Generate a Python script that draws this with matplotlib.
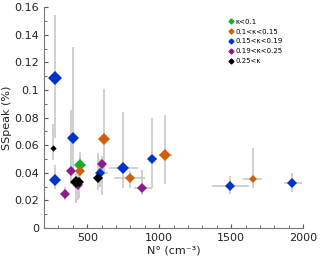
import numpy as np
import matplotlib
matplotlib.use('Agg')
import matplotlib.pyplot as plt
from matplotlib.lines import Line2D
from matplotlib.ticker import MultipleLocator

# kappa groups
labels = ['κ<0.1', '0.1<κ<0.15', '0.15<κ<0.19', '0.19<κ<0.25', '0.25<κ']
colors = ['#13b02a', '#d0600f', '#0033cc', '#8e1a8e', '#000000']

# N (cm-3), SSpeak (%), error bar ends
green_x = [449]
green_y = [0.046]
green_xlo = [430]
green_xhi = [470]
green_ylo = [0.038]
green_yhi = [0.055]

orange_x = [449, 615, 797, 1040, 1652]
orange_y = [0.041, 0.0645, 0.0364, 0.0527, 0.0355]
orange_xlo = [449, 615, 688, 999, 1585]
orange_xhi = [449, 615, 902, 1086, 1716]
orange_ylo = [0.030, 0.040, 0.029, 0.032, 0.0287]
orange_yhi = [0.052, 0.1006, 0.041, 0.082, 0.0577]

blue_x = [275, 275, 401, 592, 750, 952, 1495, 1925]
blue_y = [0.109, 0.035, 0.065, 0.040, 0.0437, 0.0497, 0.0306, 0.0324]
blue_xlo = [275, 275, 401, 562, 650, 925, 1367, 1866]
blue_xhi = [275, 275, 401, 643, 850, 988, 1624, 1992]
blue_ylo = [0.065, 0.028, 0.042, 0.030, 0.029, 0.029, 0.025, 0.026]
blue_yhi = [0.154, 0.046, 0.131, 0.050, 0.084, 0.080, 0.038, 0.040]

purple_x = [348, 390, 438, 601, 884]
purple_y = [0.025, 0.041, 0.031, 0.0463, 0.029]
purple_xlo = [348, 390, 438, 601, 826]
purple_xhi = [348, 390, 438, 601, 953]
purple_ylo = [0.020, 0.032, 0.020, 0.024, 0.024]
purple_yhi = [0.030, 0.0855, 0.040, 0.052, 0.042]

black_x = [265, 422, 442, 574]
black_y = [0.058, 0.0335, 0.033, 0.036]
black_xlo = [265, 422, 442, 574]
black_xhi = [265, 422, 442, 574]
black_ylo = [0.049, 0.018, 0.022, 0.0275]
black_yhi = [0.075, 0.040, 0.043, 0.054]

# marker sizes (points)
green_ms = [6]
orange_ms = [5, 6, 5.5, 6, 3.8]
blue_ms = [7.5, 6, 6, 5.5, 6, 5.5, 5.5, 5.5]
purple_ms = [5.5, 5, 5.5, 5.5, 5]
black_ms = [3.2, 6, 5, 5]

groups = [
    (green_x, green_y, green_xlo, green_xhi, green_ylo, green_yhi, green_ms),
    (orange_x, orange_y, orange_xlo, orange_xhi, orange_ylo, orange_yhi, orange_ms),
    (blue_x, blue_y, blue_xlo, blue_xhi, blue_ylo, blue_yhi, blue_ms),
    (purple_x, purple_y, purple_xlo, purple_xhi, purple_ylo, purple_yhi, purple_ms),
    (black_x, black_y, black_xlo, black_xhi, black_ylo, black_yhi, black_ms),
]

fig = plt.figure(figsize=(3.2, 2.63), dpi=100)
ax = fig.add_axes([0.1375, 0.133, 0.81, 0.84])

for (x, y, xlo, xhi, ylo, yhi, ms), c in zip(groups, colors):
    x = np.array(x); y = np.array(y)
    xerr = [x - np.array(xlo), np.array(xhi) - x]
    yerr = [y - np.array(ylo), np.array(yhi) - y]
    ax.errorbar(x, y, xerr=xerr, yerr=yerr, fmt='none', ecolor='#c4c4c4',
                elinewidth=1.1, capsize=0, zorder=1)
    for xi, yi, m in zip(x, y, ms):
        ax.plot(xi, yi, marker='D', color=c, markersize=m, markeredgewidth=0,
                linestyle='none', zorder=3)

ax.set_xlim(200, 2000)
ax.set_ylim(0, 0.16)
ax.xaxis.set_major_locator(MultipleLocator(500))
ax.xaxis.set_minor_locator(MultipleLocator(100))
ax.yaxis.set_major_locator(MultipleLocator(0.02))
ax.yaxis.set_minor_locator(MultipleLocator(0.01))
ax.set_yticks(np.arange(0, 0.161, 0.02))
ax.set_yticklabels(['0', '0.02', '0.04', '0.06', '0.08', '0.1', '0.12', '0.14', '0.16'])
ax.tick_params(which='both', direction='in', colors='#555555', labelcolor='#222222', labelsize=8)
ax.tick_params(which='major', length=3)
ax.tick_params(which='minor', length=2)
for s in ['top', 'right']:
    ax.spines[s].set_visible(False)
for s in ['left', 'bottom']:
    ax.spines[s].set_color('#777777')

ax.set_xlabel('N° (cm⁻³)', fontsize=8, color='#222222', labelpad=2)
ax.set_ylabel('SSpeak (%)', fontsize=8, color='#222222', labelpad=2)

handles = [Line2D([], [], marker='D', color=c, markersize=2.5, linestyle='none') for c in colors]
ax.legend(handles, labels, loc='upper left', bbox_to_anchor=(0.70, 0.96), frameon=False,
          fontsize=5, handlelength=0.8, handletextpad=0.3, labelspacing=0.55, borderaxespad=0)

fig.savefig('out.png', dpi=100)
